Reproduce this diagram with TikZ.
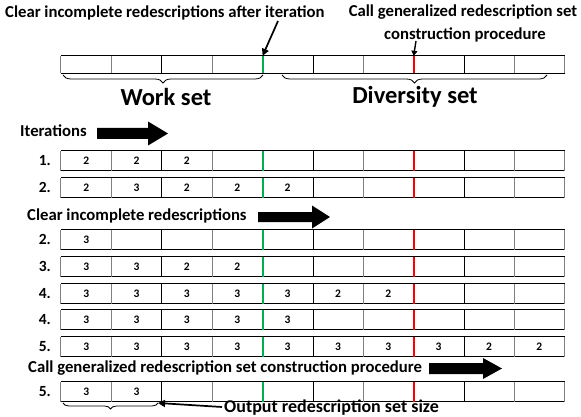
\documentclass[tikz,border=0pt]{standalone}
\usepackage{fontspec}
\setmainfont{Carlito}
\usetikzlibrary{decorations.pathreplacing,arrows.meta}
\definecolor{divgreen}{RGB}{0,176,80}
\definecolor{divred}{RGB}{255,0,0}
\definecolor{framegray}{RGB}{128,128,128}
\newcommand\E{}
\tikzset{
  cell/.style={draw=none, minimum width=50.35pt, inner sep=0pt, font=\bfseries\fontsize{11.5}{13}\selectfont},
  lbl/.style={font=\bfseries\fontsize{16.7}{20}\selectfont, inner sep=0pt},
  numlbl/.style={font=\bfseries\fontsize{15.5}{18}\selectfont, inner sep=0pt, anchor=east},
  bigtitle/.style={font=\bfseries\fontsize{24.5}{28}\selectfont, inner sep=0pt},
  thinarrow/.style={line width=1.7pt, -{Triangle[length=7pt,width=7pt]}},
  bracestyle/.style={decorate, line width=0.8pt},
}
\newcommand\cellrow[4]{%
  \foreach \v [count=\i] in {#4} {
    \node[cell, minimum height=#3pt] (#1-\i) at ({61+(\i-0.5)*50.35}, {#2+#3/2}) {\v};
  }
  \draw[black, line width=0.8pt] (#1-1.north west) -- (#1-10.north east);
  \draw[black, line width=0.8pt] (#1-1.south west) -- (#1-10.south east);
  \draw[framegray, line width=1pt] (#1-1.north west) -- (#1-1.south west);
  \draw[framegray, line width=1pt] (#1-10.north east) -- (#1-10.south east);
  \foreach \j/\c in {1/framegray,2/black,3/framegray,5/black,6/framegray,8/black,9/framegray}
    \draw[\c, line width=0.9pt] (#1-\j.north east) -- (#1-\j.south east);
  \draw[divgreen, line width=2pt] (#1-4.north east) -- (#1-4.south east);
  \draw[divred, line width=2pt] (#1-7.north east) -- (#1-7.south east);
}
% fat arrow: #1 x start, #2 shaft end x, #3 tip x, #4 y centre, #5 shaft half height, #6 head half height
\newcommand\fatarrow[6]{%
  \fill[black] (#1,{#4-#5}) -- (#2,{#4-#5}) -- (#2,{#4-#6}) -- (#3,#4) -- (#2,{#4+#6}) -- (#2,{#4+#5}) -- (#1,{#4+#5}) -- cycle;
}
\begin{document}
\begin{tikzpicture}[x=1pt, y=-1pt]
\useasboundingbox (0,0) rectangle (581,417);
\fill[white] (0,0) rectangle (581,417);

% top row
\cellrow{t}{56}{17}{\E,\E,\E,\E,\E,\E,\E,\E,\E,\E}
\node[lbl, anchor=west] (cleartxt) at (5,13) {Clear incomplete redescriptions after iteration};
\node[lbl] (calltxt) at (463,12) {Call generalized redescription set};
\node[lbl] (consttxt) at (465,35) {construction procedure};
\coordinate (clearfrom) at (278,21);
\coordinate (constfrom) at (416,41);
\draw[thinarrow] (clearfrom) -- (t-4.north east);
\draw[line width=1.4pt, -{Triangle[length=5pt,width=6pt]}] (constfrom) -- (t-7.north east);

% braces
\coordinate (wsA) at (63,75);
\coordinate (wsB) at (263,75);
\coordinate (dsA) at (282,75);
\coordinate (dsB) at (547,75);
\draw[bracestyle, decoration={brace, mirror, amplitude=8pt}] (wsA) -- (wsB);
\draw[bracestyle, decoration={brace, mirror, amplitude=8pt}] (dsA) -- (dsB);
\node[bigtitle] (work) at (166,97) {Work set};
\node[bigtitle] (div) at (415,97) {Diversity set};

% iterations
\node[lbl, anchor=west] (itertxt) at (20,131) {Iterations};
\fatarrow{97}{148}{168}{133.5}{5.5}{12}

\cellrow{r1}{151}{19.5}{2,2,2,\E,\E,\E,\E,\E,\E,\E}
\node[numlbl] (l1) at (51,160.75) {1.};
\cellrow{r2}{178}{19.5}{2,3,2,2,2,\E,\E,\E,\E,\E}
\node[numlbl] (l2) at (51,187.75) {2.};

\node[lbl, anchor=west] (cleartxt2) at (27,216) {Clear incomplete redescriptions};
\fatarrow{258}{312}{330}{217}{5}{11.5}

\cellrow{r3}{230}{19.5}{3,\E,\E,\E,\E,\E,\E,\E,\E,\E}
\node[numlbl] (l3) at (51,239.75) {2.};
\cellrow{r4}{257}{19.5}{3,3,2,2,\E,\E,\E,\E,\E,\E}
\node[numlbl] (l4) at (51,266.75) {3.};
\cellrow{r5}{284}{19.5}{3,3,3,3,3,2,2,\E,\E,\E}
\node[numlbl] (l5) at (51,293.75) {4.};
\cellrow{r6}{310}{19.5}{3,3,3,3,3,\E,\E,\E,\E,\E}
\node[numlbl] (l6) at (51,319.75) {4.};
\cellrow{r7}{337}{19.5}{3,3,3,3,3,3,3,3,2,2}
\node[numlbl] (l7) at (51,346.75) {5.};

\node[lbl, anchor=west] (calltxt2) at (28,368) {Call generalized redescription set construction procedure};
\fatarrow{429}{483}{502}{368.5}{5.5}{10.5}

\cellrow{r8}{382}{19.5}{3,3,\E,\E,\E,\E,\E,\E,\E,\E}
\node[numlbl] (l8) at (51,391.75) {5.};

\coordinate (osA) at (63,403);
\coordinate (osB) at (158,403);
\draw[bracestyle, decoration={brace, mirror, amplitude=6pt}] (osA) -- (osB);
\node[lbl, anchor=west, font=\bfseries\fontsize{18}{21}\selectfont] (outtxt) at (224,408) {Output redescription set size};
\draw[thinarrow] ([xshift=-2pt,yshift=1pt]outtxt.west) -- (osB);
\end{tikzpicture}
\end{document}
